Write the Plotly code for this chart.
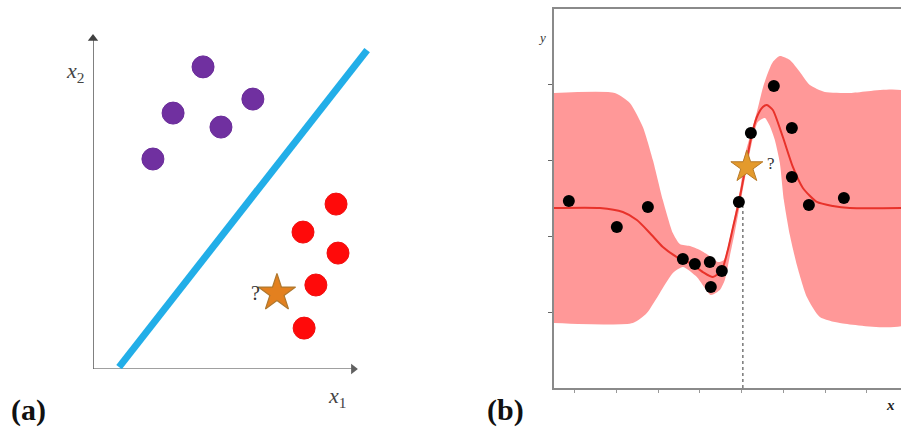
import plotly.graph_objects as go

W, H = 901, 432
OFF = 0  # body margin removed via post_script

# ---------------- Panel (a): linear classification ----------------
purple_x = [3.93, 2.86, 5.71, 4.57, 2.14]
purple_y = [10.79, 9.14, 9.64, 8.64, 7.50]
red_x = [8.68, 7.50, 8.75, 7.96, 7.54]
red_y = [5.89, 4.89, 4.14, 3.00, 1.46]
star_a_x = [6.57]
star_a_y = [2.71]
boundary_x = [0.93, 9.79]
boundary_y = [0.07, 11.39]
axis_a_x = [0, 9.30]
axis_a_y = [0, 11.80]

# ---------------- Panel (b): GP regression ----------------
obs_x = [0.856, 2.007, 2.751, 3.590, 3.878, 4.237, 4.261, 4.525, 4.933,
         5.221, 5.772, 6.204, 6.204, 6.612, 7.451]
obs_y = [2.467, 2.124, 2.388, 1.702, 1.636, 1.662, 1.332, 1.544, 2.454,
         3.364, 3.984, 3.430, 2.784, 2.414, 2.507]

mean_x = [0.5, 1.60, 2.151, 2.487, 2.799, 3.110, 3.446, 3.758, 4.070, 4.309,
          4.525, 4.669, 4.789, 4.933, 5.077, 5.221, 5.365, 5.508, 5.604, 5.748,
          5.988, 6.228, 6.468, 6.803, 7.187, 7.595, 9.0]
mean_y = [2.375, 2.375, 2.322, 2.216, 2.045, 1.860, 1.728, 1.649, 1.530, 1.464,
          1.557, 1.821, 2.111, 2.454, 2.863, 3.285, 3.575, 3.707, 3.733, 3.668,
          3.311, 2.916, 2.639, 2.454, 2.401, 2.375, 2.375]

upper_x = [0.5, 1.959, 2.319, 2.631, 2.871, 3.110, 3.350, 3.518, 3.758, 3.998,
           4.237, 4.429, 4.573, 4.717, 4.837, 4.981, 5.077, 5.197, 5.365, 5.508,
           5.628, 5.748, 5.916, 6.156, 6.396, 6.635, 6.995, 7.595, 9.0]
upper_y = [3.892, 3.892, 3.760, 3.443, 3.008, 2.480, 2.045, 1.900, 1.873, 1.821,
           1.741, 1.662, 1.689, 1.979, 2.282, 2.678, 3.074, 3.311, 3.641, 3.958,
           4.156, 4.301, 4.380, 4.327, 4.169, 3.997, 3.905, 3.892, 3.892]

lower_x = [0.5, 2.391, 2.727, 3.038, 3.350, 3.590, 3.926, 4.261, 4.477, 4.597,
           4.717, 4.837, 4.981, 5.125, 5.269, 5.388, 5.556, 5.676, 5.796, 5.916,
           6.012, 6.156, 6.324, 6.564, 6.875, 7.355, 9.0]
lower_y = [0.858, 0.858, 0.989, 1.253, 1.517, 1.596, 1.464, 1.227, 1.293, 1.425,
           1.741, 2.058, 2.480, 2.902, 3.298, 3.509, 3.562, 3.457, 3.272, 2.968,
           2.480, 2.018, 1.623, 1.201, 0.937, 0.858, 0.858]

query_x = [5.03]
query_line_y = [0.0, 2.45]
star_b_x = [5.125]
star_b_y = [2.916]

x_ticks_b = [1, 2, 3, 4, 5, 6, 7, 8]
y_ticks_b = [1, 2, 3, 4]

SERIF = "Liberation Serif, Times New Roman, serif"

fig = go.Figure()

# ---- panel a traces
fig.add_trace(go.Scatter(x=[axis_a_x[0], axis_a_x[1]], y=[0, 0], mode="lines",
                         line=dict(color="#808080", width=1.6),
                         xaxis="x", yaxis="y", hoverinfo="skip"))
fig.add_trace(go.Scatter(x=[0, 0], y=[axis_a_y[0], axis_a_y[1]], mode="lines",
                         line=dict(color="#606060", width=1.6),
                         xaxis="x", yaxis="y", hoverinfo="skip"))
fig.add_trace(go.Scatter(x=[axis_a_x[1]], y=[0], mode="markers",
                         marker=dict(symbol="triangle-right", size=9, color="#606060"),
                         xaxis="x", yaxis="y", hoverinfo="skip", cliponaxis=False))
fig.add_trace(go.Scatter(x=[0], y=[axis_a_y[1]], mode="markers",
                         marker=dict(symbol="triangle-up", size=9, color="#404040"),
                         xaxis="x", yaxis="y", hoverinfo="skip", cliponaxis=False))
fig.add_trace(go.Scatter(x=boundary_x, y=boundary_y, mode="lines",
                         line=dict(color="#22AEE8", width=7),
                         xaxis="x", yaxis="y", hoverinfo="skip"))
fig.add_trace(go.Scatter(x=purple_x, y=purple_y, mode="markers",
                         marker=dict(size=22, color="#7030A0",
                                     line=dict(color="#6A2C9A", width=1)),
                         xaxis="x", yaxis="y"))
fig.add_trace(go.Scatter(x=red_x, y=red_y, mode="markers",
                         marker=dict(size=22, color="#FF0A0A",
                                     line=dict(color="#F01010", width=1)),
                         xaxis="x", yaxis="y"))
fig.add_trace(go.Scatter(x=star_a_x, y=star_a_y, mode="markers",
                         marker=dict(size=28, symbol="star", color="#E3801F",
                                     line=dict(color="#B0782E", width=1.2)),
                         xaxis="x", yaxis="y"))

# ---- panel b traces
fig.add_trace(go.Scatter(x=upper_x + lower_x[::-1], y=upper_y + lower_y[::-1],
                         mode="lines", fill="toself",
                         fillcolor="rgb(255,152,152)",
                         line=dict(width=0, shape="spline", smoothing=0.6, color="rgba(0,0,0,0)"),
                         xaxis="x2", yaxis="y2", hoverinfo="skip"))
fig.add_trace(go.Scatter(x=query_x * 2, y=query_line_y, mode="lines",
                         line=dict(color="#333333", width=1, dash="dot"),
                         xaxis="x2", yaxis="y2"))
fig.add_trace(go.Scatter(x=mean_x, y=mean_y, mode="lines",
                         line=dict(color="#E8322A", width=2, shape="spline", smoothing=0.6),
                         xaxis="x2", yaxis="y2"))
fig.add_trace(go.Scatter(x=obs_x, y=obs_y, mode="markers",
                         marker=dict(size=12, color="#000000"),
                         xaxis="x2", yaxis="y2"))
fig.add_trace(go.Scatter(x=star_b_x, y=star_b_y, mode="markers",
                         marker=dict(size=24, symbol="star", color="#E49A2C",
                                     line=dict(color="#B87A28", width=1)),
                         xaxis="x2", yaxis="y2"))
# invisible trace to activate the top frame axis
fig.add_trace(go.Scatter(x=[x_ticks_b[0]], y=[y_ticks_b[0]], mode="markers",
                         marker=dict(opacity=0), xaxis="x3", yaxis="y2",
                         hoverinfo="skip"))


def px_x(p):
    return (p - OFF) / W


def px_y(p):
    return 1 - (p - OFF) / H


def label(x, y, text, size, color, xref="paper", yref="paper"):
    return dict(x=x, y=y, xref=xref, yref=yref, text=text, showarrow=False,
                xanchor="center", yanchor="middle",
                font=dict(family=SERIF, size=size, color=color))


annotations = [
    label(star_a_x[0] - 0.75, star_a_y[0] + 0.02, "?", 20, "#333333", "x", "y"),
    label(px_x(75), px_y(72), "<i>x</i><sub>2</sub>", 22, "#444444"),
    label(px_x(337), px_y(397), "<i>x</i><sub>1</sub>", 22, "#444444"),
    label(px_x(29), px_y(410), "<b>(a)</b>", 30, "#111111"),
    label(star_b_x[0] + 0.58, star_b_y[0] + 0.05, "?", 17, "#333333", "x2", "y2"),
    label(px_x(542), px_y(37), "<i>y</i>", 13, "#333333"),
    label(px_x(890), px_y(405), "<b><i>x</i></b>", 15, "#222222"),
    label(px_x(505), px_y(410), "<b>(b)</b>", 30, "#111111"),
]

xb_range = [0.5, 0.5 + (W - 554 + OFF) / 41.7]

fig.update_layout(
    width=W, height=H,
    margin=dict(l=0, r=0, t=0, b=0),
    paper_bgcolor="white", plot_bgcolor="rgba(0,0,0,0)",
    showlegend=False,
    hovermode=False,
    xaxis=dict(domain=[px_x(93), px_x(373)], range=[0, 10], visible=False,
               fixedrange=True),
    yaxis=dict(domain=[px_y(369), px_y(33)], range=[0, 12], visible=False,
               fixedrange=True),
    xaxis2=dict(domain=[px_x(554), 1.0], range=xb_range, anchor="y2",
                showline=True, linecolor="#8a8a8a", linewidth=1.5,
                tickvals=x_ticks_b, showticklabels=False, ticks="outside",
                ticklen=3, tickcolor="#999999", showgrid=False, zeroline=False),
    xaxis3=dict(domain=[px_x(554), 1.0], range=xb_range, anchor="y2",
                overlaying="x2", side="top", showline=True, linecolor="#8a8a8a",
                linewidth=1.5, showticklabels=False, ticks="", showgrid=False,
                zeroline=False),
    yaxis2=dict(domain=[px_y(388), px_y(9)], range=[0, 5.0], anchor="x2",
                showline=True, linecolor="#8a8a8a", linewidth=1.5,
                tickvals=y_ticks_b, showticklabels=False, ticks="outside",
                ticklen=4, tickcolor="#666666", showgrid=False, zeroline=False),
    annotations=annotations,
)

fig.write_html("out.html",
               config={"displayModeBar": False},
               post_script="document.body.style.margin='0';document.body.style.overflow='hidden';")
